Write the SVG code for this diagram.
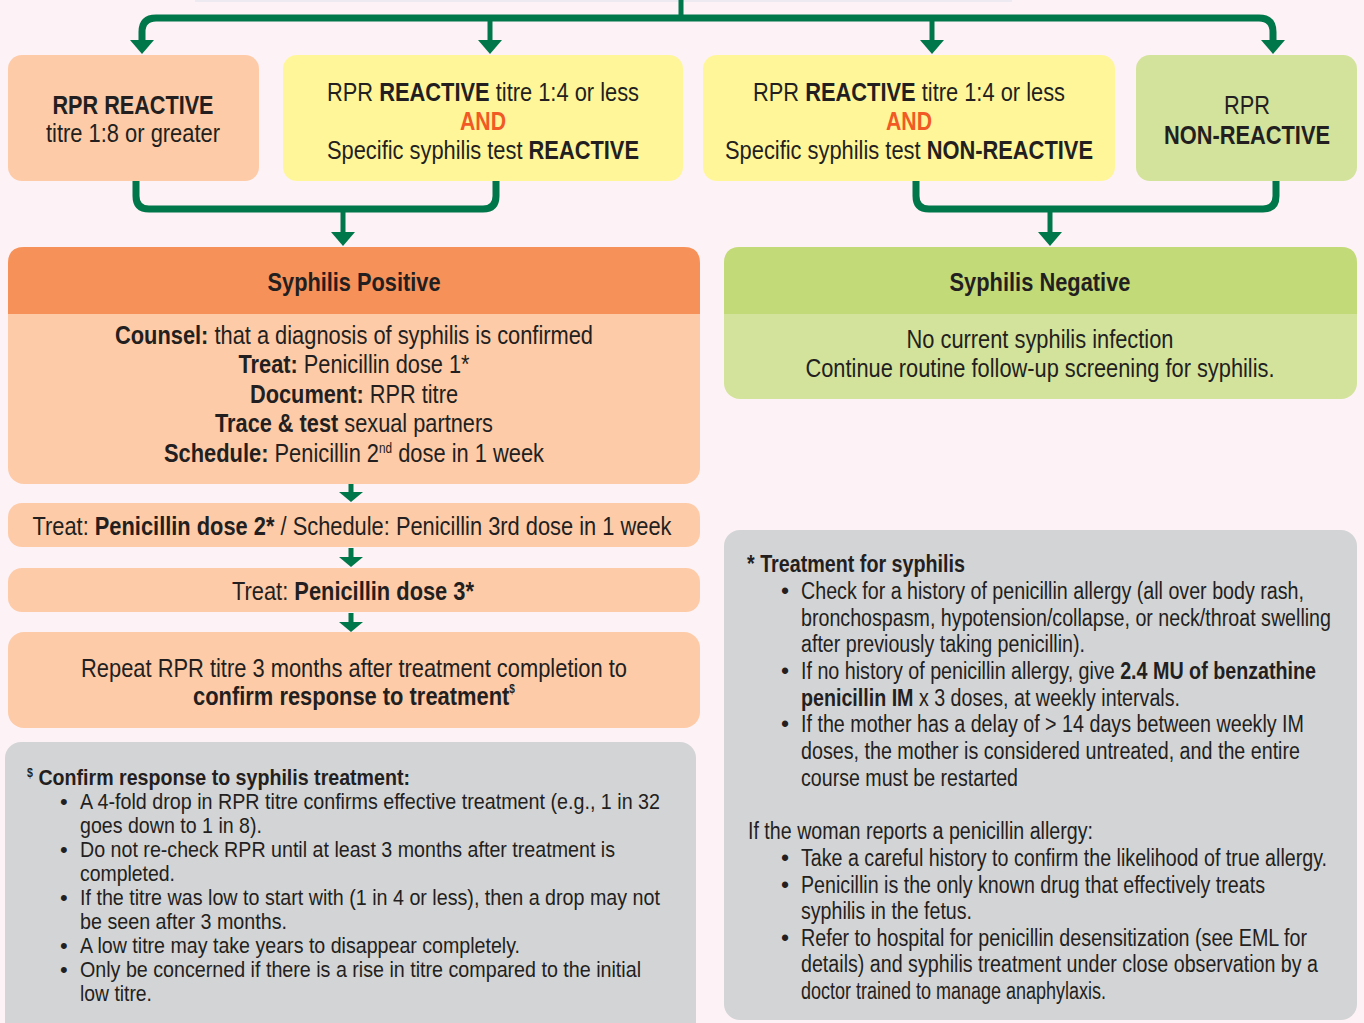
<svg xmlns="http://www.w3.org/2000/svg" width="1364" height="1023" viewBox="0 0 1364 1023">
<style>
text{font-family:"Liberation Sans Narrow","Arial Narrow","Liberation Sans",Arial,sans-serif;fill:#231F20}
.t26{font-size:26px}
.t25{font-size:25px}
.t23{font-size:23px}
.t22{font-size:22px}
.b{font-weight:bold}
.c{text-anchor:middle}
.and{fill:#F15A24;font-weight:bold}
.conn{fill:none;stroke:#00774A;stroke-width:7;stroke-linejoin:round}
.shaft{fill:none;stroke:#00774A;stroke-width:5}
.head{fill:#00774A}
.peach{fill:#FDCBA8}
.yellow{fill:#FFF69A}
.green{fill:#D3E39C}
.gray{fill:#D3D4D6}
</style>
<rect width="1364" height="1023" fill="#FDF2F5"/>
<rect x="195" y="-20" width="817" height="22" fill="#EEEAF2"/>

<g id="connectors">
  <path class="shaft" d="M681 0 V18" stroke-width="4"/>
  <path class="conn" d="M142 42 V32 Q142 18 156 18 H1259 Q1273 18 1273 32 V42" stroke-width="6"/>
  <path class="shaft" d="M490 18 V42"/>
  <path class="shaft" d="M932 18 V42"/>
  <polygon class="head" points="130,40 154,40 142,54"/>
  <polygon class="head" points="478,40 502,40 490,54"/>
  <polygon class="head" points="920,40 944,40 932,54"/>
  <polygon class="head" points="1261,40 1285,40 1273,54"/>
  <path class="conn" d="M136 181 V196 Q136 209 149 209 H483 Q496 209 496 196 V181"/>
  <path class="shaft" d="M343 209 V234" stroke-width="6"/>
  <polygon class="head" points="331,232 355,232 343,246"/>
  <path class="conn" d="M916 181 V196 Q916 209 929 209 H1263 Q1276 209 1276 196 V181"/>
  <path class="shaft" d="M1050 209 V234" stroke-width="6"/>
  <polygon class="head" points="1038,232 1062,232 1050,246"/>
  <path class="shaft" d="M351 484 V494" stroke-width="8"/>
  <polygon class="head" points="339,492 363,492 351,502"/>
  <path class="shaft" d="M351 548 V559" stroke-width="8"/>
  <polygon class="head" points="339,557 363,557 351,567"/>
  <path class="shaft" d="M351 613 V624" stroke-width="8"/>
  <polygon class="head" points="339,622 363,622 351,632"/>
</g>

<g id="node-rpr-reactive-high">
  <rect class="peach" x="8" y="55" width="251" height="126" rx="14"/>
  <text class="t26 b c" x="133" y="114" textLength="161" lengthAdjust="spacingAndGlyphs">RPR REACTIVE</text>
  <text class="t26 c" x="133" y="142" textLength="174" lengthAdjust="spacingAndGlyphs">titre 1:8 or greater</text>
</g>

<g id="node-rpr-low-specific-reactive">
  <rect class="yellow" x="283" y="55" width="400" height="126" rx="14"/>
  <text class="t26 c" x="483" y="101" textLength="312" lengthAdjust="spacingAndGlyphs">RPR <tspan class="b">REACTIVE</tspan> titre 1:4 or less</text>
  <text class="t26 c and" x="483" y="130" textLength="46" lengthAdjust="spacingAndGlyphs">AND</text>
  <text class="t26 c" x="483" y="159" textLength="312" lengthAdjust="spacingAndGlyphs">Specific syphilis test <tspan class="b">REACTIVE</tspan></text>
</g>

<g id="node-rpr-low-specific-nonreactive">
  <rect class="yellow" x="703" y="55" width="412" height="126" rx="14"/>
  <text class="t26 c" x="909" y="101" textLength="312" lengthAdjust="spacingAndGlyphs">RPR <tspan class="b">REACTIVE</tspan> titre 1:4 or less</text>
  <text class="t26 c and" x="909" y="130" textLength="46" lengthAdjust="spacingAndGlyphs">AND</text>
  <text class="t26 c" x="909" y="159" textLength="368" lengthAdjust="spacingAndGlyphs">Specific syphilis test <tspan class="b">NON-REACTIVE</tspan></text>
</g>

<g id="node-rpr-nonreactive">
  <rect class="green" x="1136" y="55" width="221" height="126" rx="14"/>
  <text class="t26 c" x="1247" y="114" textLength="46" lengthAdjust="spacingAndGlyphs">RPR</text>
  <text class="t26 b c" x="1247" y="144" textLength="166" lengthAdjust="spacingAndGlyphs">NON-REACTIVE</text>
</g>

<g id="node-syphilis-positive">
  <rect class="peach" x="8" y="247" width="692" height="237" rx="16"/>
  <path d="M8 314 V263 Q8 247 24 247 H684 Q700 247 700 263 V314 Z" fill="#F69259"/>
  <text class="t25 b c" x="354" y="291" textLength="173" lengthAdjust="spacingAndGlyphs">Syphilis Positive</text>
  <text class="t26 c" x="354" y="344" textLength="478" lengthAdjust="spacingAndGlyphs"><tspan class="b">Counsel:</tspan> that a diagnosis of syphilis is confirmed</text>
  <text class="t26 c" x="354" y="373" textLength="231" lengthAdjust="spacingAndGlyphs"><tspan class="b">Treat:</tspan> Penicillin dose 1*</text>
  <text class="t26 c" x="354" y="403" textLength="208" lengthAdjust="spacingAndGlyphs"><tspan class="b">Document:</tspan> RPR titre</text>
  <text class="t26 c" x="354" y="432" textLength="278" lengthAdjust="spacingAndGlyphs"><tspan class="b">Trace &amp; test</tspan> sexual partners</text>
  <text class="t26 c" x="354" y="462" textLength="380" lengthAdjust="spacingAndGlyphs"><tspan class="b">Schedule:</tspan> Penicillin 2<tspan font-size="14" dy="-9">nd</tspan><tspan dy="9"> dose in 1 week</tspan></text>
</g>

<g id="node-syphilis-negative">
  <rect class="green" x="724" y="247" width="633" height="152" rx="16"/>
  <path d="M724 314 V263 Q724 247 740 247 H1341 Q1357 247 1357 263 V314 Z" fill="#C3DA78"/>
  <text class="t25 b c" x="1040" y="291" textLength="181" lengthAdjust="spacingAndGlyphs">Syphilis Negative</text>
  <text class="t26 c" x="1040" y="348" textLength="267" lengthAdjust="spacingAndGlyphs">No current syphilis infection</text>
  <text class="t26 c" x="1040" y="377" textLength="469" lengthAdjust="spacingAndGlyphs">Continue routine follow-up screening for syphilis.</text>
</g>

<g id="node-dose2">
  <rect class="peach" x="8" y="503" width="692" height="44" rx="14"/>
  <text class="t26 c" x="352" y="535" textLength="639" lengthAdjust="spacingAndGlyphs">Treat: <tspan class="b">Penicillin dose 2*</tspan> / Schedule: Penicillin 3rd dose in 1 week</text>
</g>

<g id="node-dose3">
  <rect class="peach" x="8" y="568" width="692" height="44" rx="14"/>
  <text class="t26 c" x="353" y="600" textLength="242" lengthAdjust="spacingAndGlyphs">Treat: <tspan class="b">Penicillin dose 3*</tspan></text>
</g>

<g id="node-repeat-rpr">
  <rect class="peach" x="8" y="632" width="692" height="96" rx="16"/>
  <text class="t26 c" x="354" y="677" textLength="546" lengthAdjust="spacingAndGlyphs">Repeat RPR titre 3 months after treatment completion to</text>
  <text class="t26 c b" x="354" y="705" textLength="322" lengthAdjust="spacingAndGlyphs">confirm response to treatment<tspan font-size="12" dy="-12">$</tspan></text>
</g>

<g id="note-confirm-response">
  <rect class="gray" x="5" y="742" width="691" height="300" rx="16"/>
  <text class="t22 b" x="27" y="785" textLength="383" lengthAdjust="spacingAndGlyphs"><tspan font-size="12" dy="-8">$</tspan><tspan dy="8"> Confirm response to syphilis treatment:</tspan></text>
  <g class="t22">
    <text x="60" y="809">•</text>
    <text x="80" y="809" textLength="580" lengthAdjust="spacingAndGlyphs">A 4-fold drop in RPR titre confirms effective treatment (e.g., 1 in 32</text>
    <text x="80" y="833" textLength="182" lengthAdjust="spacingAndGlyphs">goes down to 1 in 8).</text>
    <text x="60" y="857">•</text>
    <text x="80" y="857" textLength="535" lengthAdjust="spacingAndGlyphs">Do not re-check RPR until at least 3 months after treatment is</text>
    <text x="80" y="881" textLength="95" lengthAdjust="spacingAndGlyphs">completed.</text>
    <text x="60" y="905">•</text>
    <text x="80" y="905" textLength="580" lengthAdjust="spacingAndGlyphs">If the titre was low to start with (1 in 4 or less), then a drop may not</text>
    <text x="80" y="929" textLength="207" lengthAdjust="spacingAndGlyphs">be seen after 3 months.</text>
    <text x="60" y="953">•</text>
    <text x="80" y="953" textLength="440" lengthAdjust="spacingAndGlyphs">A low titre may take years to disappear completely.</text>
    <text x="60" y="977">•</text>
    <text x="80" y="977" textLength="561" lengthAdjust="spacingAndGlyphs">Only be concerned if there is a rise in titre compared to the initial</text>
    <text x="80" y="1001" textLength="72" lengthAdjust="spacingAndGlyphs">low titre.</text>
  </g>
</g>

<g id="note-treatment">
  <rect class="gray" x="724" y="530" width="633" height="490" rx="16"/>
  <text class="t23 b" x="747" y="572" textLength="218" lengthAdjust="spacingAndGlyphs">* Treatment for syphilis</text>
  <g class="t23">
    <text x="781" y="599">•</text>
    <text x="801" y="599" textLength="503" lengthAdjust="spacingAndGlyphs">Check for a history of penicillin allergy (all over body rash,</text>
    <text x="801" y="626" textLength="530" lengthAdjust="spacingAndGlyphs">bronchospasm, hypotension/collapse, or neck/throat swelling</text>
    <text x="801" y="652" textLength="284" lengthAdjust="spacingAndGlyphs">after previously taking penicillin).</text>
    <text x="781" y="679">•</text>
    <text x="801" y="679" textLength="515" lengthAdjust="spacingAndGlyphs">If no history of penicillin allergy, give <tspan class="b">2.4 MU of benzathine</tspan></text>
    <text x="801" y="706" textLength="379" lengthAdjust="spacingAndGlyphs"><tspan class="b">penicillin IM</tspan> x 3 doses, at weekly intervals.</text>
    <text x="781" y="732">•</text>
    <text x="801" y="732" textLength="503" lengthAdjust="spacingAndGlyphs">If the mother has a delay of &gt; 14 days between weekly IM</text>
    <text x="801" y="759" textLength="499" lengthAdjust="spacingAndGlyphs">doses, the mother is considered untreated, and the entire</text>
    <text x="801" y="786" textLength="217" lengthAdjust="spacingAndGlyphs">course must be restarted</text>
    <text x="748" y="839" textLength="345" lengthAdjust="spacingAndGlyphs">If the woman reports a penicillin allergy:</text>
    <text x="781" y="866">•</text>
    <text x="801" y="866" textLength="526" lengthAdjust="spacingAndGlyphs">Take a careful history to confirm the likelihood of true allergy.</text>
    <text x="781" y="893">•</text>
    <text x="801" y="893" textLength="464" lengthAdjust="spacingAndGlyphs">Penicillin is the only known drug that effectively treats</text>
    <text x="801" y="919" textLength="171" lengthAdjust="spacingAndGlyphs">syphilis in the fetus.</text>
    <text x="781" y="946">•</text>
    <text x="801" y="946" textLength="506" lengthAdjust="spacingAndGlyphs">Refer to hospital for penicillin desensitization (see EML for</text>
    <text x="801" y="972" textLength="517" lengthAdjust="spacingAndGlyphs">details) and syphilis treatment under close observation by a</text>
    <text x="801" y="999" textLength="305" lengthAdjust="spacingAndGlyphs">doctor trained to manage anaphylaxis.</text>
  </g>
</g>
</svg>
